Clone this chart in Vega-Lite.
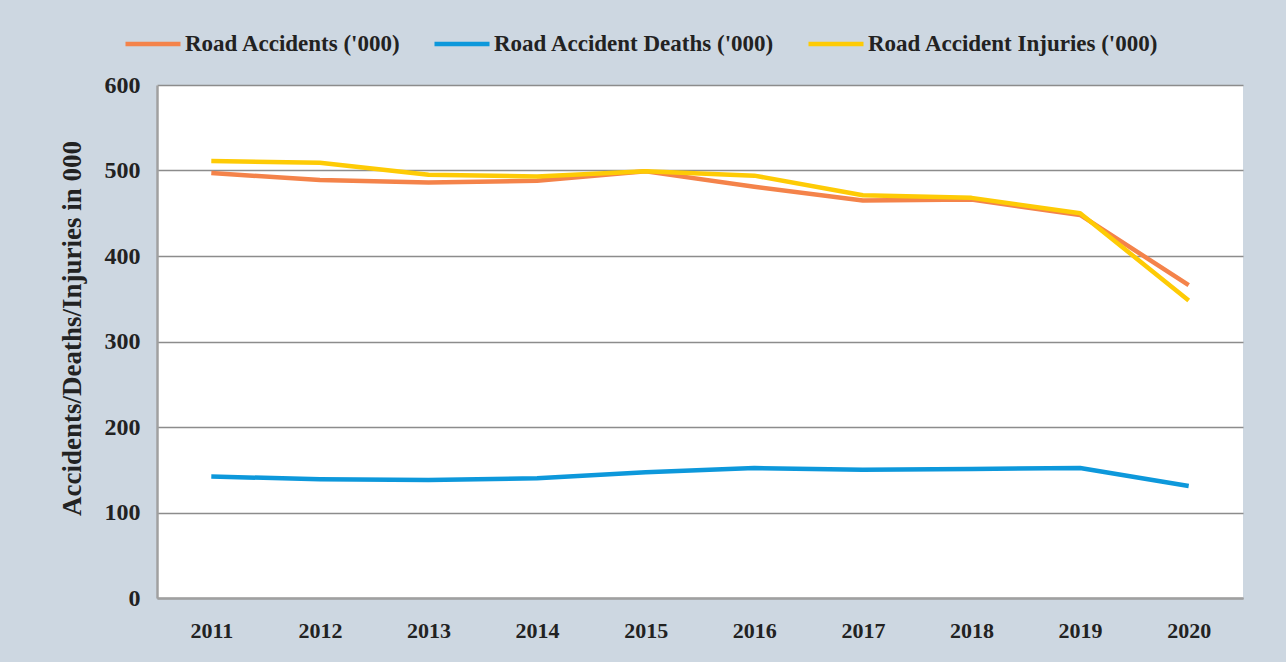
{
  "$schema": "https://vega.github.io/schema/vega-lite/v6.json",
  "width": 1086,
  "height": 513,
  "autosize": {"type": "none"},
  "padding": {"left": 157, "top": 85, "right": 43, "bottom": 64},
  "background": "#cdd7e1",
  "config": {
    "font": "Liberation Serif",
    "view": {"fill": "white", "stroke": null}
  },
  "data": {
    "values": [
      {"year": "2011", "series": "Road Accidents ('000)", "value": 497},
      {"year": "2012", "series": "Road Accidents ('000)", "value": 489},
      {"year": "2013", "series": "Road Accidents ('000)", "value": 486},
      {"year": "2014", "series": "Road Accidents ('000)", "value": 488},
      {"year": "2015", "series": "Road Accidents ('000)", "value": 499},
      {"year": "2016", "series": "Road Accidents ('000)", "value": 481},
      {"year": "2017", "series": "Road Accidents ('000)", "value": 465},
      {"year": "2018", "series": "Road Accidents ('000)", "value": 466},
      {"year": "2019", "series": "Road Accidents ('000)", "value": 448},
      {"year": "2020", "series": "Road Accidents ('000)", "value": 366},
      {"year": "2011", "series": "Road Accident Deaths ('000)", "value": 142},
      {"year": "2012", "series": "Road Accident Deaths ('000)", "value": 139},
      {"year": "2013", "series": "Road Accident Deaths ('000)", "value": 138},
      {"year": "2014", "series": "Road Accident Deaths ('000)", "value": 140},
      {"year": "2015", "series": "Road Accident Deaths ('000)", "value": 147},
      {"year": "2016", "series": "Road Accident Deaths ('000)", "value": 152},
      {"year": "2017", "series": "Road Accident Deaths ('000)", "value": 150},
      {"year": "2018", "series": "Road Accident Deaths ('000)", "value": 151},
      {"year": "2019", "series": "Road Accident Deaths ('000)", "value": 152},
      {"year": "2020", "series": "Road Accident Deaths ('000)", "value": 131},
      {"year": "2011", "series": "Road Accident Injuries ('000)", "value": 511},
      {"year": "2012", "series": "Road Accident Injuries ('000)", "value": 509},
      {"year": "2013", "series": "Road Accident Injuries ('000)", "value": 495},
      {"year": "2014", "series": "Road Accident Injuries ('000)", "value": 493},
      {"year": "2015", "series": "Road Accident Injuries ('000)", "value": 499},
      {"year": "2016", "series": "Road Accident Injuries ('000)", "value": 494},
      {"year": "2017", "series": "Road Accident Injuries ('000)", "value": 471},
      {"year": "2018", "series": "Road Accident Injuries ('000)", "value": 468},
      {"year": "2019", "series": "Road Accident Injuries ('000)", "value": 450},
      {"year": "2020", "series": "Road Accident Injuries ('000)", "value": 348}
    ]
  },
  "mark": {"type": "line", "strokeWidth": 4.5, "strokeCap": "butt", "strokeJoin": "round"},
  "encoding": {
    "x": {
      "field": "year",
      "type": "ordinal",
      "scale": {"type": "point", "padding": 0.5},
      "axis": {
        "title": null,
        "labelAngle": 0,
        "labelFont": "Liberation Serif",
        "labelFontWeight": "bold",
        "labelFontSize": 22,
        "labelColor": "#222",
        "labelPadding": 22,
        "ticks": false,
        "domainColor": "#a0a0a0",
        "domainWidth": 2.5,
        "grid": false
      }
    },
    "y": {
      "field": "value",
      "type": "quantitative",
      "scale": {"domain": [0, 600], "nice": false},
      "axis": {
        "title": "Accidents/Deaths/Injuries in 000",
        "titleFont": "Liberation Serif",
        "titleFontWeight": "bold",
        "titleFontSize": 27,
        "titleColor": "#222",
        "titlePadding": 18,
        "titleY": 243,
        "values": [0, 100, 200, 300, 400, 500, 600],
        "labelFont": "Liberation Serif",
        "labelFontWeight": "bold",
        "labelFontSize": 24,
        "labelColor": "#222",
        "labelPadding": 17,
        "ticks": false,
        "domainColor": "#a0a0a0",
        "domainWidth": 2.5,
        "grid": true,
        "gridColor": "#8c8c8c",
        "gridWidth": 1.5
      }
    },
    "color": {
      "field": "series",
      "type": "nominal",
      "sort": ["Road Accidents ('000)", "Road Accident Deaths ('000)", "Road Accident Injuries ('000)"],
      "scale": {
        "domain": ["Road Accidents ('000)", "Road Accident Deaths ('000)", "Road Accident Injuries ('000)"],
        "range": ["#f4834a", "#0d98db", "#fecb05"]
      },
      "legend": {
        "title": null,
        "orient": "none",
        "direction": "horizontal",
        "legendX": -34,
        "legendY": -71,
        "symbolType": "stroke",
        "symbolSize": 3025,
        "symbolStrokeWidth": 4.5,
        "labelFont": "Liberation Serif",
        "labelFontWeight": "bold",
        "labelFontSize": 23,
        "labelColor": "#222",
        "labelOffset": 2,
        "columnPadding": 24,
        "labelLimit": 400
      }
    }
  }
}
